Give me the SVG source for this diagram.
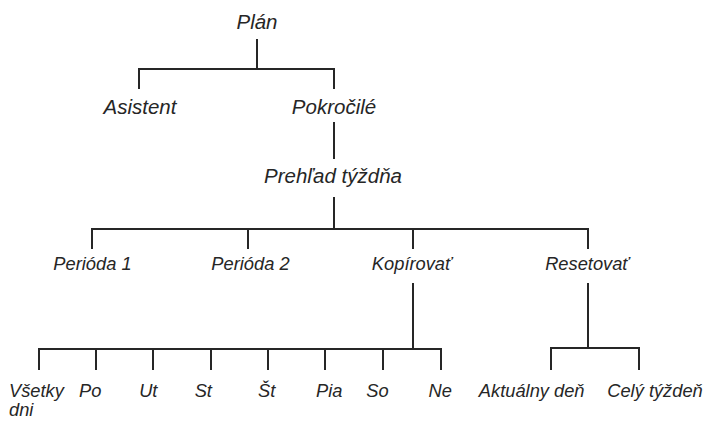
<svg xmlns="http://www.w3.org/2000/svg" width="709" height="421" viewBox="0 0 709 421">
<style>
text{font-family:"Liberation Sans",Arial,sans-serif;font-style:italic;font-size:20.5px;fill:#262626;text-anchor:middle}
.s{font-size:18.3px}
.st{text-anchor:start}
.l{fill:none;stroke:#262626;stroke-width:2}
</style>
<rect width="709" height="421" fill="#fff"/>
<g id="connectors">
<path class="l" d="M257 39V69M139 89V69H334V89"/>
<path class="l" d="M334 122V159"/>
<path class="l" d="M334 197V229M92 249V229H588V249M248 229V249M413 229V249"/>
<path class="l" d="M413 283V349M39 370V349H441V370M96 349V370M153 349V370M211 349V370M268 349V370M325 349V370M383 349V370"/>
<path class="l" d="M588 283V348M551 370V348H639V370"/>
</g>
<g id="plan"><text x="257" y="29">Plán</text></g>
<g id="asistent"><text x="140" y="114">Asistent</text></g>
<g id="pokrocile"><text x="334" y="114">Pokročilé</text></g>
<g id="prehlad"><text x="333" y="183">Prehľad týždňa</text></g>
<g id="perioda1"><text class="s" x="92.5" y="270">Perióda 1</text></g>
<g id="perioda2"><text class="s" x="250.5" y="270">Perióda 2</text></g>
<g id="kopirovat"><text class="s" x="411.7" y="270">Kopírovať</text></g>
<g id="resetovat"><text class="s" x="587" y="270">Resetovať</text></g>
<g id="vsetky"><text class="s st" x="9" y="397">Všetky</text><text class="s st" x="9" y="416">dni</text></g>
<g id="po"><text class="s" x="90.3" y="397">Po</text></g>
<g id="ut"><text class="s" x="148.3" y="397">Ut</text></g>
<g id="st"><text class="s" x="203.3" y="397">St</text></g>
<g id="st2"><text class="s" x="266.7" y="397">Št</text></g>
<g id="pia"><text class="s" x="329.3" y="397">Pia</text></g>
<g id="so"><text class="s" x="377.5" y="397">So</text></g>
<g id="ne"><text class="s" x="440.3" y="397">Ne</text></g>
<g id="aktualny"><text class="s" x="531.7" y="397">Aktuálny deň</text></g>
<g id="cely"><text class="s" x="655" y="397">Celý týždeň</text></g>
</svg>
